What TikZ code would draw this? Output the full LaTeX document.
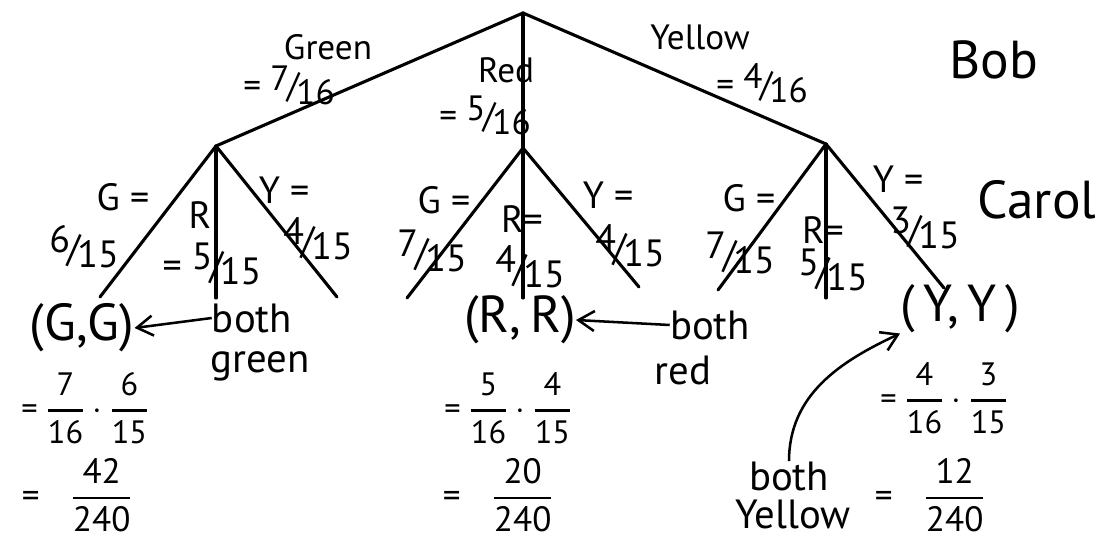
\documentclass[tikz,border=0pt]{standalone}
\usepackage{amsmath}
\usepackage{fontspec}
\setmainfont{PT Sans}
\usetikzlibrary{arrows.meta, positioning}
\newcommand{\sfr}[2]{\raisebox{.45ex}{#1}\kern-.08em/\kern-.08em\raisebox{-.35ex}{#2}}
\newcommand{\vfr}[2]{\genfrac{}{}{1.6pt}{0}{\text{#1}}{\text{#2}}}

\begin{document}
\begin{tikzpicture}[x=0.025cm, y=-0.025cm,
    branch/.style={line width=2.2pt, line cap=round},
    lab/.style={font=\fontsize{25}{27}\selectfont, inner sep=0pt},
    sublab/.style={font=\fontsize{27}{29}\selectfont, inner sep=0pt},
    who/.style={font=\fontsize{38}{40}\selectfont, inner sep=0pt},
    pair/.style={font=\fontsize{37}{39}\selectfont, inner sep=0pt},
    note/.style={font=\fontsize{29}{31}\selectfont, inner sep=0pt},
    calcn/.style={font=\fontsize{23}{25}\selectfont, inner sep=0pt},
    total/.style={font=\fontsize{25}{27}\selectfont, inner sep=0pt},
    arr/.style={-{Straight Barb[length=4mm, width=5mm]}, line width=1.8pt},
]
\useasboundingbox (0,0) rectangle (1105,537);

% branching points
\coordinate (root) at (523,13);
\coordinate (g) at (216,146);
\coordinate (r) at (523,148);
\coordinate (y) at (826,144);
\coordinate (gg) at (100,297);
\coordinate (gr) at (216,298);
\coordinate (gy) at (337,297);
\coordinate (rg) at (407,298);
\coordinate (rr) at (523,298);
\coordinate (ry) at (639,287);
\coordinate (yg) at (718,290);
\coordinate (yr) at (826,298);
\coordinate (yy) at (944,288);

% Bob
\draw[branch] (root) -- (g);
\draw[branch] (root) -- (r);
\draw[branch] (root) -- (y);
% Carol
\foreach \p in {g,r,y}{
  \draw[branch] (\p) -- (\p g);
  \draw[branch] (\p) -- (\p r);
  \draw[branch] (\p) -- (\p y);
}

\node[lab] (lgreen) at (328,47) {Green};
\node[lab] (pgreen) at (289,85) {= \sfr{7}{16}};
\node[lab] (lred) at (506,70) {Red};
\node[lab] (pred) at (485,115) {= \sfr{5}{16}};
\node[lab] (lyellow) at (700,37) {Yellow};
\node[lab] (pyellow) at (762,83) {= \sfr{4}{16}};
\node[who] (bob) at (994,60) {Bob};
\node[who] (carol) at (1037,200) {Carol};

% second draw labels
\node[sublab] (lgg) at (123,197) {G =};
\node[sublab] (pgg) at (84,247) {\sfr{6}{15}};
\node[sublab] (lgr) at (200,215) {R};
\node[sublab] (pgr) at (212,264) {= \sfr{5}{15}};
\node[sublab] (lgy) at (284,190) {Y =};
\node[sublab] (pgy) at (318,239) {\sfr{4}{15}};
\node[sublab] (lrg) at (444,200) {G =};
\node[sublab] (prg) at (432,251) {\sfr{7}{15}};
\node[sublab] (lrr) at (522,219) {R=};
\node[sublab] (prr) at (530,267) {\sfr{4}{15}};
\node[sublab] (lry) at (608,195) {Y =};
\node[sublab] (pry) at (630,246) {\sfr{4}{15}};
\node[sublab] (lyg) at (749,198) {G =};
\node[sublab] (pyg) at (740,253) {\sfr{7}{15}};
\node[sublab] (lyr) at (823,230) {R=};
\node[sublab] (pyr) at (833,270) {\sfr{5}{15}};
\node[sublab] (lyy) at (898,179) {Y =};
\node[sublab] (pyy) at (925,228) {\sfr{3}{15}};

% outcomes
\node[pair] (ggpair) at (82,328) {(G,G)};
\node[note] (bothg) at (252,318) {both};
\node[note] (greenw) at (260,366) {green};
\draw[arr] (bothg.west) -- (ggpair.east);
\node[calcn] (ggcalc) at (85,408) {= $\vfr{7}{16}\cdot\vfr{6}{15}$};
\node[total] (ggtot) at (77,495) {=\hspace{0.9em}$\vfr{42}{240}$};

\node[pair] (rrpair) at (520,320) {(R,\,R)};
\node[note] (bothr) at (710,325) {both};
\node[note] (redw) at (683,370) {red};
\draw[arr] (bothr.west) -- (rrpair.east);
\node[calcn] (rrcalc) at (508,408) {= $\vfr{5}{16}\cdot\vfr{4}{15}$};
\node[total] (rrtot) at (498,495) {=\hspace{0.9em}$\vfr{20}{240}$};

\node[pair] (yypair) at (960,309) {(\,Y,\,Y\,)};
\node[calcn] (yycalc) at (944,398) {= $\vfr{4}{16}\cdot\vfr{3}{15}$};
\node[note] (bothy) at (789,476) {both};
\node[note] (yelloww) at (793,514) {Yellow};
\draw[arr] (bothy.north) to[out=90, in=205] (yypair.south west);
\node[total] (yytot) at (930,495) {=\hspace{0.9em}$\vfr{12}{240}$};
\end{tikzpicture}
\end{document}
